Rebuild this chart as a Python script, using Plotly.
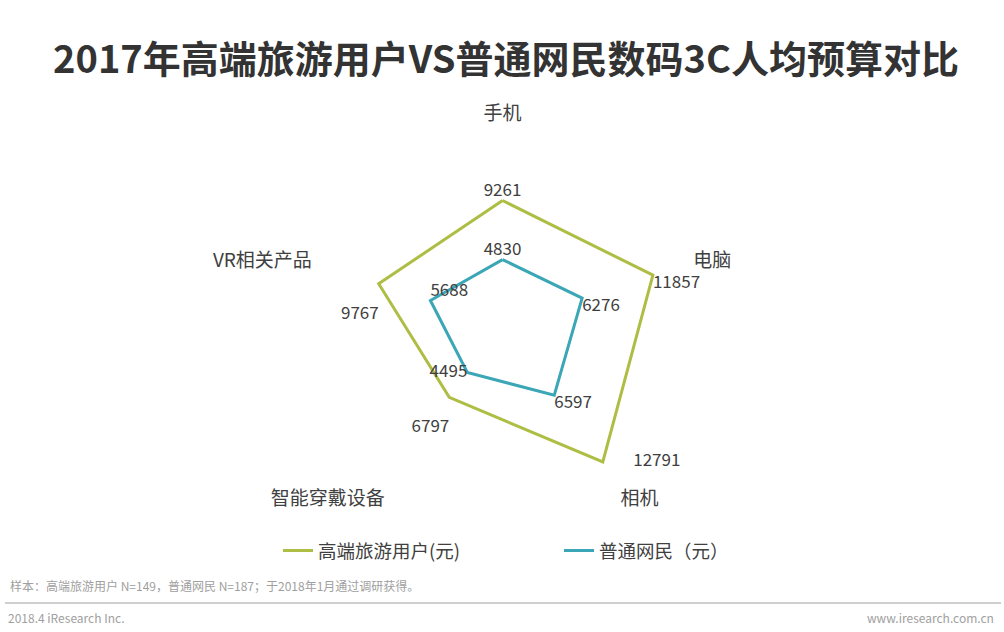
import plotly.graph_objects as go

categories = ["手机", "电脑", "相机", "智能穿戴设备", "VR相关产品"]
high_end = [9261, 11857, 12791, 6797, 9767]
netizen = [4830, 6276, 6597, 4495, 5688]
series_names = ["高端旅游用户(元)", "普通网民（元）"]
title_text = "2017年高端旅游用户VS普通网民数码3C人均预算对比"
note_text = "样本：高端旅游用户 N=149，普通网民 N=187；于2018年1月通过调研获得。"
footer_left = "2018.4 iResearch Inc."
footer_right = "www.iresearch.com.cn"

FONT = "Noto Sans CJK SC"
TXT = "#404040"

def closed(v):
    return list(v) + [v[0]]

high_text = [str(v) for v in high_end]
# labels that sit further from their point in the reference
high_text[3] = "<br>" + high_text[3]
high_text[4] = "<br>" + high_text[4]
high_text[2] = "\u00a0" * 8 + high_text[2]

fig = go.Figure()
fig.add_trace(go.Scatterpolar(
    r=closed(high_end), theta=closed(categories), name=series_names[0],
    mode="lines+text",
    text=high_text + [""],
    textposition=["top center", "bottom right", "middle right", "bottom left", "bottom left", "top center"],
    textfont=dict(family=FONT, size=17, color=TXT),
    line=dict(color="#aebd43", width=3),
    hoverinfo="skip",
))
fig.add_trace(go.Scatterpolar(
    r=closed(netizen), theta=closed(categories), name=series_names[1],
    mode="lines+text",
    text=[str(v) for v in netizen] + [""],
    textposition=["top center", "bottom right", "bottom right", "middle left", "top right", "top center"],
    textfont=dict(family=FONT, size=17, color=TXT),
    line=dict(color="#3aa6b6", width=3),
    hoverinfo="skip",
))

fig.update_layout(
    width=1004, height=632,
    margin=dict(l=0, r=0, t=0, b=0),
    paper_bgcolor="white",
    font=dict(family=FONT, color=TXT),
    title=dict(text="<b>" + title_text + "</b>", x=506 / 1004, xanchor="center", y=1 - 60 / 632, yanchor="middle",
               font=dict(family=FONT, size=38, color="#333333")),
    polar=dict(
        domain=dict(x=[0.3013, 0.6998], y=[0.1709, 0.8038]),
        bgcolor="rgba(0,0,0,0)",
        radialaxis=dict(visible=False, range=[0, 15000]),
        angularaxis=dict(rotation=90, direction="clockwise", showline=False, showgrid=False,
                         ticks="", tickfont=dict(family=FONT, size=19, color=TXT)),
    ),
    showlegend=True,
    legend=dict(orientation="h", x=278 / 1004, xanchor="left", y=1 - 551 / 632, yanchor="middle",
                font=dict(family=FONT, size=18.5, color=TXT), entrywidth=236,
                bgcolor="rgba(0,0,0,0)"),
    shapes=[dict(type="line", xref="paper", yref="paper", x0=0.005, x1=0.997,
                 y0=1 - 603 / 632, y1=1 - 603 / 632, line=dict(color="#a0a0a0", width=1))],
    annotations=[
        dict(text=note_text, xref="paper", yref="paper", x=8 / 1004, y=1 - 585 / 632,
             xanchor="left", yanchor="middle", showarrow=False,
             font=dict(family=FONT, size=12, color="#a0a0a0")),
        dict(text=footer_left, xref="paper", yref="paper", x=6 / 1004, y=1 - 617 / 632,
             xanchor="left", yanchor="middle", showarrow=False,
             font=dict(family=FONT, size=12, color="#a0a0a0")),
        dict(text=footer_right, xref="paper", yref="paper", x=996 / 1004, y=1 - 617 / 632,
             xanchor="right", yanchor="middle", showarrow=False,
             font=dict(family=FONT, size=12, color="#a0a0a0")),
    ],
)

fig.write_html("out.html", config={"displayModeBar": False},
               post_script="document.body.style.margin='0';")
